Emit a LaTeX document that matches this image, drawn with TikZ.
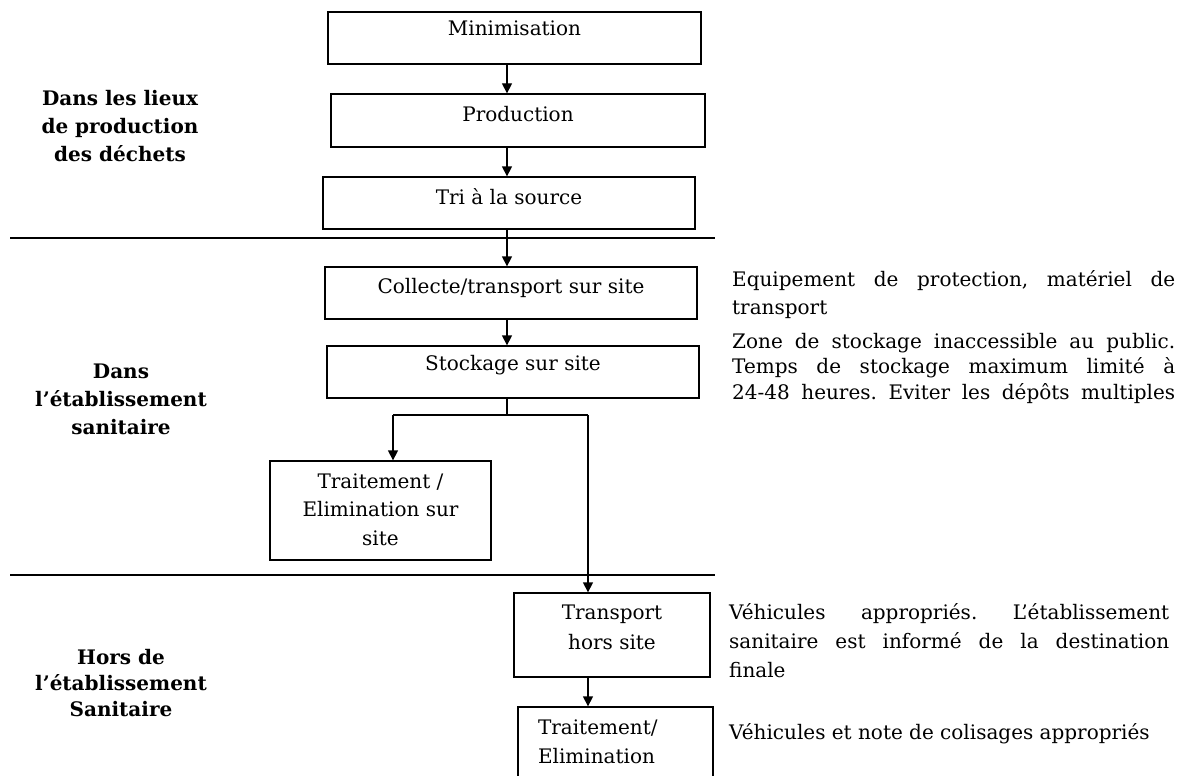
\documentclass[tikz,border=0pt]{standalone}
\usepackage{fontspec}
\setmainfont{DejaVu Serif}
\usetikzlibrary{arrows.meta}
\frenchspacing

% box text: width, height, first-baseline depth from top, content
\newcommand\boxtext[4]{\parbox[c][#2][t]{#1}{\centering\rule{0pt}{#3}#4}}

\tikzset{
  procbox/.style={draw, line width=1.3pt, inner sep=0pt, font=\fontsize{20}{28}\selectfont},
  arr/.style={line width=1.3pt, -{Triangle[width=10pt,length=10pt]}},
  sepline/.style={line width=1.3pt},
  zonelabel/.style={inner sep=0pt, anchor=base, font=\bfseries\fontsize{20}{27.5}\selectfont},
  note/.style={inner sep=0pt, anchor=base west, font=\fontsize{20}{26}\selectfont},
}

\begin{document}
\begin{tikzpicture}[x=1pt, y=-1pt]
\useasboundingbox (0,0) rectangle (1178,776);
\clip (0,0) rectangle (1178,776);
\fill[white] (0,0) rectangle (1178,776);

% zone labels
\node[zonelabel] (z1) at (120,106) {\parbox[t]{240pt}{\centering Dans les lieux\\de production\\des déchets}};
\node[zonelabel, font=\bfseries\fontsize{20}{28}\selectfont] (z2) at (121,378) {\parbox[t]{240pt}{\centering Dans\\l’établissement\\sanitaire}};
\node[zonelabel, font=\bfseries\fontsize{20}{26}\selectfont] (z3) at (121,664) {\parbox[t]{240pt}{\centering Hors de\\l’établissement\\Sanitaire}};

% separators between zones
\coordinate (s1w) at (10,238);
\coordinate (s1e) at (715,238);
\coordinate (s2w) at (10,575);
\coordinate (s2e) at (715,575);
\draw[sepline] (s1w) -- (s1e);
\draw[sepline] (s2w) -- (s2e);

% process steps
\node[procbox] (mini) at (514.5,38) {\boxtext{373pt}{52pt}{24pt}{Minimisation}};
\node[procbox] (prod) at (518,120.5) {\boxtext{374pt}{53pt}{27pt}{Production}};
\node[procbox] (tri) at (509,203) {\boxtext{372pt}{52pt}{27pt}{Tri à la source}};
\node[procbox] (coll) at (511,293) {\boxtext{372pt}{52pt}{26pt}{Collecte/transport sur site}};
\node[procbox] (stock) at (513,372) {\boxtext{372pt}{52pt}{24pt}{Stockage sur site}};
\node[procbox, font=\fontsize{20}{28.5}\selectfont] (trait) at (380.5,510.5) {\boxtext{221pt}{99pt}{27pt}{Traitement /\\Elimination sur\\site}};
\node[procbox, font=\fontsize{20}{30}\selectfont] (trans) at (612,635) {\boxtext{196pt}{84pt}{26pt}{Transport\\hors site}};
\node[procbox, font=\fontsize{20}{29}\selectfont] (final) at (615.5,753.5) {\parbox[c][93pt][t]{195pt}{\raggedright\leftskip=20pt\rule{0pt}{27pt}Traitement/\\Elimination}};

% flow
\coordinate (spine) at (507,0);
\coordinate (lb) at (393,415);
\coordinate (rb) at (588,415);
\draw[arr] (mini.south -| spine) -- (prod.north -| spine);
\draw[arr] (prod.south -| spine) -- (tri.north -| spine);
\draw[arr] (tri.south -| spine) -- (coll.north -| spine);
\draw[arr] (coll.south -| spine) -- (stock.north -| spine);
\draw[sepline] (stock.south -| spine) -- (spine |- lb);
\draw[sepline] (lb) -- (rb);
\draw[arr] (lb) -- (lb |- trait.north);
\draw[arr] (rb) -- (rb |- trans.north);
\draw[arr] (trans.south -| rb) -- (final.north -| rb);

% notes
\node[note, font=\fontsize{20}{28}\selectfont] (n1) at (732,286) {\parbox[t]{443pt}{\makebox[443pt][s]{Equipement de protection, matériel de}\\transport}};
\node[note, font=\fontsize{20}{25.5}\selectfont] (n2) at (732,348) {\parbox[t]{443pt}{\makebox[443pt][s]{Zone de stockage inaccessible au public.}\\\makebox[443pt][s]{Temps de stockage maximum limité à}\\\makebox[443pt][s]{24-48 heures. Eviter les dépôts multiples}}};
\node[note, font=\fontsize{20}{29}\selectfont] (n3) at (729,619) {\parbox[t]{440pt}{\makebox[440pt][s]{Véhicules appropriés. L’établissement}\\\makebox[440pt][s]{sanitaire est informé de la destination}\\finale}};
\node[note] (n4) at (729,739) {Véhicules et note de colisages appropriés};
\end{tikzpicture}
\end{document}
